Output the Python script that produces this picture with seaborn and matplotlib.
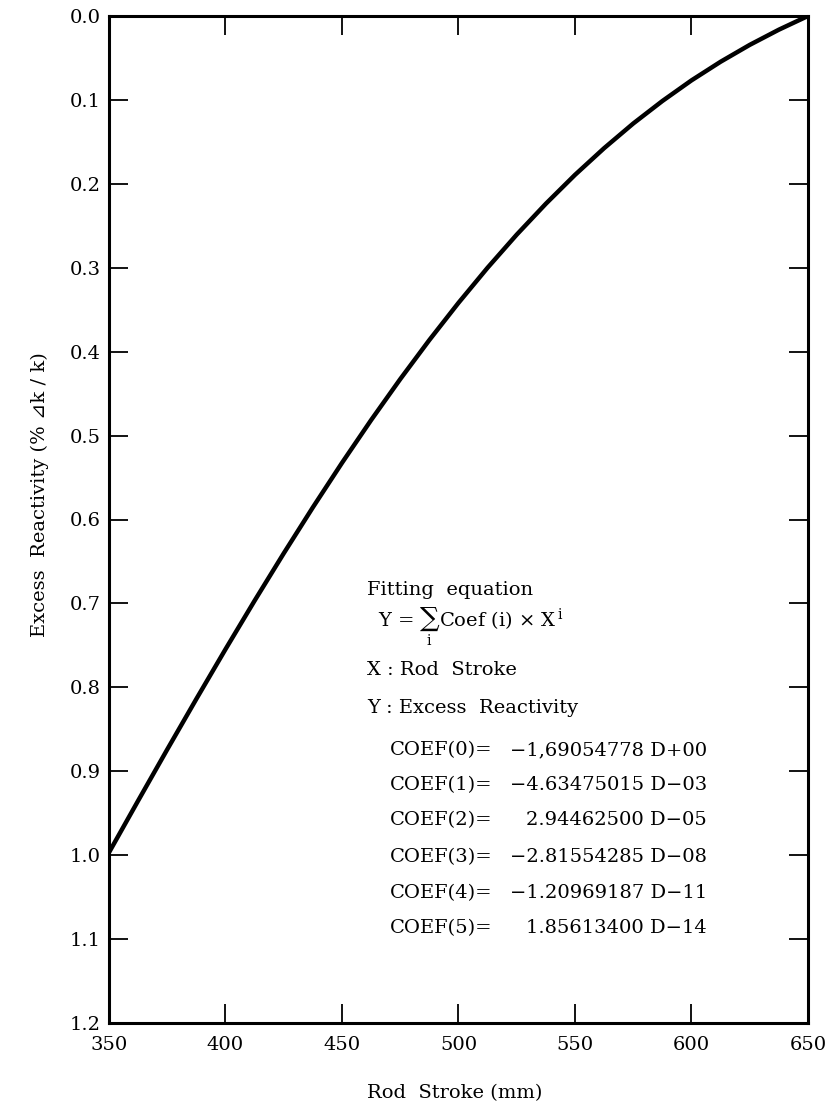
import matplotlib
matplotlib.use("Agg")
import matplotlib.pyplot as plt
import pandas as pd
import seaborn as sns

# Rod stroke (mm) and excess reactivity (%dk/k) along the fitted curve
rod_stroke_mm = [350, 362.5, 375, 387.5, 400, 412.5, 425, 437.5, 450, 462.5,
                 475, 487.5, 500, 512.5, 525, 537.5, 550, 562.5, 575, 587.5,
                 600, 612.5, 625, 637.5, 650]
excess_reactivity = [0.9968, 0.9351, 0.8740, 0.8138, 0.7546, 0.6967, 0.6403,
                     0.5855, 0.5325, 0.4815, 0.4327, 0.3861, 0.3418, 0.2999,
                     0.2605, 0.2237, 0.1893, 0.1575, 0.1281, 0.1013, 0.0767,
                     0.0545, 0.0344, 0.0163, 0.0000]

x_ticks = [350, 400, 450, 500, 550, 600, 650]
y_ticks = [0.0, 0.1, 0.2, 0.3, 0.4, 0.5, 0.6, 0.7, 0.8, 0.9, 1.0, 1.1, 1.2]

coef_names = ["COEF(0)=", "COEF(1)=", "COEF(2)=", "COEF(3)=", "COEF(4)=", "COEF(5)="]
coef_values = ["\u22121,69054778 D+00", "\u22124.63475015 D\u221203",
               "2.94462500 D\u221205", "\u22122.81554285 D\u221208",
               "\u22121.20969187 D\u221211", "1.85613400 D\u221214"]

sns.set_theme(style="ticks")
plt.rcParams["font.family"] = ["DejaVu Serif", "DejaVu Sans", "Noto Sans CJK JP"]
plt.rcParams["mathtext.fontset"] = "dejavuserif"
plt.rcParams["text.color"] = "black"
plt.rcParams["axes.labelcolor"] = "black"

W, H = 829, 1104
fig = plt.figure(figsize=(W / 100, H / 100), dpi=100)
ax = fig.add_axes([109 / W, 1 - 1023 / H, (808 - 109) / W, (1023 - 16) / H])


def fxy(x, y):
    return x / W, 1 - y / H


df = pd.DataFrame({"stroke": rod_stroke_mm, "reactivity": excess_reactivity})
sns.lineplot(data=df, x="stroke", y="reactivity", ax=ax, color="black",
             linewidth=3.2, sort=True)

ax.set_xlim(350, 650)
ax.set_ylim(1.2, 0.0)
ax.set_xticks(x_ticks)
ax.set_yticks(y_ticks)
ax.set_xticklabels([str(v) for v in x_ticks])
ax.set_yticklabels([f"{v:.1f}" for v in y_ticks])
ax.tick_params(axis="both", direction="in", length=14, width=1.3,
               colors="black", labelsize=14, top=True, right=True)
ax.tick_params(axis="x", pad=9)
ax.tick_params(axis="y", pad=6)
for s in ax.spines.values():
    s.set_visible(True)
    s.set_linewidth(2.2)
    s.set_color("black")
ax.set_xlabel("")
ax.set_ylabel("")
ax.grid(False)

fig.text(*fxy(455, 1093), "Rod  Stroke (mm)", ha="center", va="center", fontsize=14)
fig.text(*fxy(40, 495), "Excess  Reactivity (% \u22BFk / k)", ha="center", va="center",
         rotation=90, fontsize=14)

# Fitting equation annotation
fs = 14
fig.text(*fxy(367, 590), "Fitting  equation", ha="left", va="center", fontsize=fs)
fig.text(*fxy(378, 627), "Y = $\\sum_{\\mathrm{i}}$Coef (i) \u00d7 X$^{\\mathrm{\\,i}}$",
         ha="left", va="center", fontsize=fs)
fig.text(*fxy(367, 670), "X : Rod  Stroke", ha="left", va="center", fontsize=fs)
fig.text(*fxy(367, 708), "Y : Excess  Reactivity", ha="left", va="center", fontsize=fs)

coef_rows_y = [750, 785, 820, 857, 893, 928]
for name, val, yy in zip(coef_names, coef_values, coef_rows_y):
    fig.text(*fxy(390, yy), name, ha="left", va="center", fontsize=fs)
    fig.text(*fxy(707, yy), val, ha="right", va="center", fontsize=fs)

fig.savefig("out.png", dpi=100, facecolor="white")
